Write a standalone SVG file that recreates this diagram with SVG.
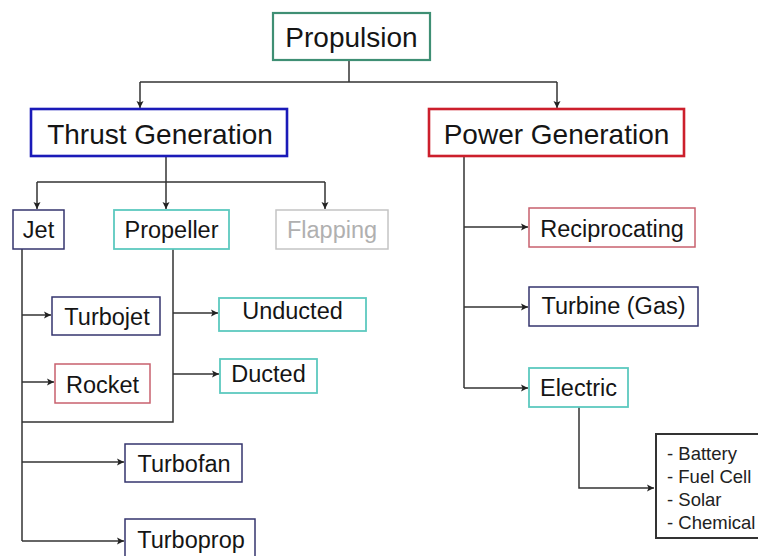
<svg xmlns="http://www.w3.org/2000/svg" width="758" height="556" viewBox="0 0 758 556">
<defs>
<style>
text{font-family:"Liberation Sans",Arial,sans-serif;fill:#151515;text-anchor:middle}
.big{font-size:28px}
.sm{font-size:23.5px}
.li{font-size:18.5px;text-anchor:start;fill:#222}
rect{fill:#fff}
.con{fill:none;stroke:#333;stroke-width:1.5}
.navy{stroke:#35356e;stroke-width:1.5}
.teal{stroke:#5cc9bf;stroke-width:1.8}
.pink{stroke:#c8606e;stroke-width:1.5}
</style>
<marker id="ah" viewBox="0 0 8 8" refX="7" refY="4" markerWidth="8" markerHeight="8" markerUnits="userSpaceOnUse" orient="auto">
<path d="M0,0.5 L7,4 L0,7.5 L1.5,4 Z" fill="#222"/>
</marker>
</defs>
<rect x="0" y="0" width="758" height="556" fill="#fff"/>
<g id="connectors" class="con">
<path d="M349,60 V82"/>
<path d="M140,82 H557"/>
<path d="M140,82 V108" marker-end="url(#ah)"/>
<path d="M557,82 V108" marker-end="url(#ah)"/>
<path d="M166,156 V182"/>
<path d="M37,182 H325"/>
<path d="M37,182 V209" marker-end="url(#ah)"/>
<path d="M166,182 V209" marker-end="url(#ah)"/>
<path d="M325,182 V209" marker-end="url(#ah)"/>
<path d="M22,249 V541"/>
<path d="M22,315 H51" marker-end="url(#ah)"/>
<path d="M22,382 H54" marker-end="url(#ah)"/>
<path d="M173,249 V422 H22"/>
<path d="M173,313 H218" marker-end="url(#ah)"/>
<path d="M173,374 H219" marker-end="url(#ah)"/>
<path d="M22,462 H124" marker-end="url(#ah)"/>
<path d="M22,541 H124" marker-end="url(#ah)"/>
<path d="M464,156 V388"/>
<path d="M464,227 H528" marker-end="url(#ah)"/>
<path d="M464,307 H528" marker-end="url(#ah)"/>
<path d="M464,388 H528" marker-end="url(#ah)"/>
<path d="M579,407 V488 H654" marker-end="url(#ah)"/>
</g>
<g id="propulsion"><rect x="273" y="13" width="157" height="47" stroke="#3f8f74" stroke-width="2.2"/><text class="big" x="351.5" y="47">Propulsion</text></g>
<g id="thrust"><rect x="31" y="109" width="256" height="47" stroke="#1a1ab8" stroke-width="2.6"/><text class="big" x="160" y="144">Thrust Generation</text></g>
<g id="power"><rect x="429" y="109" width="255" height="47" stroke="#cc1f2c" stroke-width="2.6"/><text class="big" x="556.5" y="144">Power Generation</text></g>
<g id="jet"><rect x="13" y="210" width="51" height="39" class="navy"/><text class="sm" x="38.5" y="238">Jet</text></g>
<g id="propeller"><rect x="114" y="210" width="115" height="39" class="teal"/><text class="sm" x="171.5" y="238">Propeller</text></g>
<g id="flapping"><rect x="276" y="210" width="112" height="39" stroke="#c4c4c4" stroke-width="1.5"/><text class="sm" x="332" y="238" style="fill:#b0b0b0">Flapping</text></g>
<g id="turbojet"><rect x="52" y="297" width="108" height="38" class="navy"/><text class="sm" x="107" y="325">Turbojet</text></g>
<g id="rocket"><rect x="55" y="364" width="95" height="39" class="pink"/><text class="sm" x="102.5" y="393">Rocket</text></g>
<g id="unducted"><rect x="219" y="298" width="147" height="33" class="teal"/><text class="sm" x="292.5" y="319">Unducted</text></g>
<g id="ducted"><rect x="220" y="359" width="97" height="34" class="teal"/><text class="sm" x="268.5" y="382">Ducted</text></g>
<g id="turbofan"><rect x="125" y="444" width="117" height="38" class="navy"/><text class="sm" x="184" y="472">Turbofan</text></g>
<g id="turboprop"><rect x="125" y="519" width="130" height="42" class="navy"/><text class="sm" x="191" y="548">Turboprop</text></g>
<g id="reciprocating"><rect x="529" y="208" width="166" height="39" class="pink"/><text class="sm" x="612" y="237">Reciprocating</text></g>
<g id="turbine"><rect x="529" y="287" width="169" height="39" class="navy"/><text class="sm" x="613.5" y="314">Turbine (Gas)</text></g>
<g id="electric"><rect x="529" y="368" width="99" height="39" class="teal"/><text class="sm" x="578.5" y="396">Electric</text></g>
<g id="electric-types"><rect x="656" y="434" width="120" height="104" stroke="#333" stroke-width="2"/>
<text class="li" x="667" y="460">- Battery</text>
<text class="li" x="667" y="483">- Fuel Cell</text>
<text class="li" x="667" y="506">- Solar</text>
<text class="li" x="667" y="529">- Chemical</text>
</g>
</svg>
